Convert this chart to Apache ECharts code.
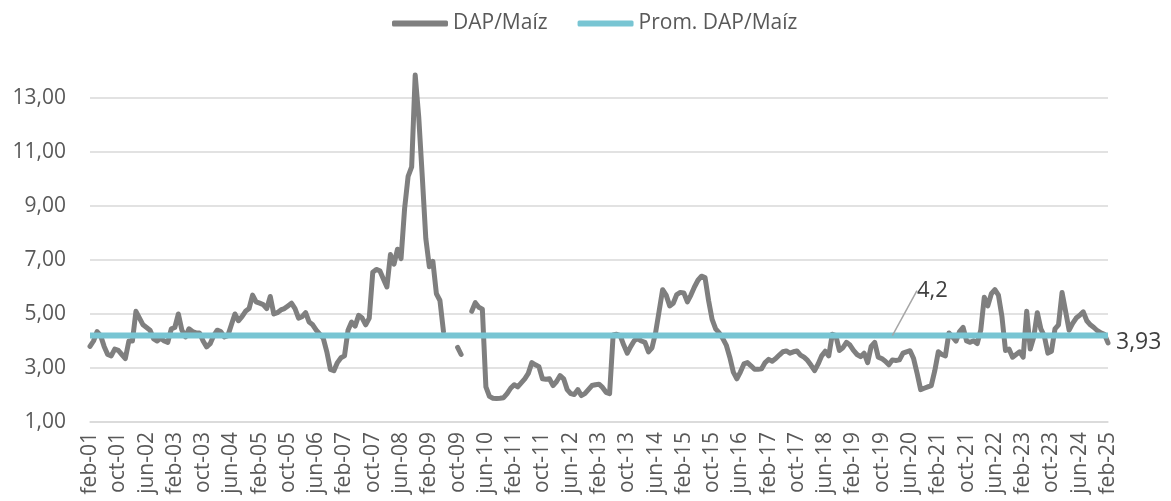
<!DOCTYPE html>
<html>
<head>
<meta charset="utf-8">
<script src="https://cdn.jsdelivr.net/npm/echarts/dist/echarts.min.js"></script>
<style>
  html, body { margin: 0; padding: 0; background: #fff; }
  #chart { width: 1171px; height: 501px; }
</style>
</head>
<body>
<div id="chart"></div>
<script>
// meses en español, serie mensual desde feb-01 hasta feb-25
var meses = ['ene', 'feb', 'mar', 'abr', 'may', 'jun', 'jul', 'ago', 'sep', 'oct', 'nov', 'dic'];
var anioInicio = 2001;
var mesInicio = 1; // feb

// relación DAP/Maíz (null = sin dato)
var dapMaiz = [
  3.8, 4.0, 4.35, 4.2, 3.8, 3.5, 3.45, 3.7, 3.65, 3.5, 3.35, 4.0,
  4.0, 5.1, 4.85, 4.6, 4.5, 4.4, 4.08, 4.0, 4.1, 4.0, 3.95, 4.45,
  4.5, 5.0, 4.4, 4.15, 4.45, 4.35, 4.3, 4.3, 4.0, 3.78, 3.9, 4.2,
  4.4, 4.35, 4.15, 4.2, 4.6, 5.0, 4.75, 4.9, 5.1, 5.2, 5.7, 5.45,
  5.4, 5.35, 5.2, 5.65, 5.0, 5.05, 5.15, 5.2, 5.3, 5.4, 5.2, 4.85,
  4.9, 5.05, 4.7, 4.6, 4.4, 4.25, 4.1, 3.6, 2.95, 2.9, 3.2, 3.38,
  3.45, 4.4, 4.7, 4.55, 4.95, 4.85, 4.6, 4.85, 6.55, 6.65, 6.6, 6.3,
  6.0, 7.2, 6.85, 7.4, 7.05, 8.9, 10.1, 10.45, 13.85, 12.3, 10.1, 7.8,
  6.75, 6.95, 5.75, 5.5, 4.35, null, null, null, 3.76, 3.5, null, null,
  5.1, 5.42, 5.25, 5.18, 2.3, 1.95, 1.88, 1.87, 1.88, 1.9, 2.05, 2.25,
  2.38, 2.3, 2.45, 2.6, 2.8, 3.2, 3.12, 3.05, 2.6, 2.58, 2.6, 2.35,
  2.5, 2.72, 2.6, 2.2, 2.05, 2.02, 2.2, 1.98, 2.05, 2.2, 2.35, 2.38,
  2.4, 2.28, 2.1, 2.05, 4.22, 4.25, 4.2, 3.85, 3.55, 3.8, 4.02, 4.08,
  4.0, 3.95, 3.6, 3.75, 4.3, 5.1, 5.9, 5.7, 5.3, 5.4, 5.72, 5.8,
  5.78, 5.45, 5.7, 6.0, 6.25, 6.4, 6.35, 5.5, 4.8, 4.45, 4.3, 4.1,
  3.85, 3.4, 2.85, 2.6, 2.85, 3.15, 3.2, 3.08, 2.95, 2.95, 2.97, 3.2,
  3.32, 3.25, 3.35, 3.48, 3.6, 3.63, 3.55, 3.6, 3.63, 3.48, 3.4, 3.28,
  3.1, 2.9, 3.15, 3.45, 3.62, 3.45, 4.25, 4.2, 3.65, 3.75, 3.95, 3.85,
  3.65, 3.5, 3.42, 3.55, 3.2, 3.8, 3.95, 3.4, 3.35, 3.25, 3.12, 3.3,
  3.28, 3.3, 3.55, 3.6, 3.64, 3.35, 2.8, 2.2, 2.25, 2.3, 2.35, 2.9,
  3.6, 3.5, 3.45, 4.3, 4.15, 4.0, 4.35, 4.5, 4.0, 3.95, 4.01, 3.9,
  4.4, 5.62, 5.3, 5.75, 5.9, 5.7, 4.9, 3.65, 3.7, 3.4, 3.5, 3.6,
  3.4, 5.1, 3.7, 4.15, 5.05, 4.45, 4.18, 3.55, 3.62, 4.45, 4.6, 5.8,
  5.1, 4.4, 4.65, 4.85, 4.95, 5.08, 4.75, 4.6, 4.5, 4.38, 4.3, 4.25,
  3.93
];

// promedio del periodo
var promedio = 4.2;
var etiquetaPromedio = '4,2';
var indiceEtiquetaProm = 227;
var etiquetaUltimo = '3,93';

var categorias = dapMaiz.map(function (v, i) {
  var m = mesInicio + i;
  var anio = anioInicio + Math.floor(m / 12);
  return meses[m % 12] + '-' + String(anio % 100).padStart(2, '0');
});

var datosProm = dapMaiz.map(function (v, i) {
  if (i === indiceEtiquetaProm) {
    return { value: promedio, label: { show: true, formatter: etiquetaPromedio } };
  }
  return promedio;
});

var myChart = echarts.init(document.getElementById('chart'));

var option = {
  animation: false,
  textStyle: { fontFamily: 'Open Sans' },
  legend: {
    top: 8,
    left: 387,
    icon: 'roundRect',
    itemWidth: 56,
    itemHeight: 6,
    itemGap: 30,
    textStyle: { fontSize: 21, color: '#595959' },
    data: ['DAP/Maíz', 'Prom. DAP/Maíz']
  },
  grid: { left: 90, right: 63, top: 98, bottom: 79 },
  xAxis: {
    type: 'category',
    data: categorias,
    boundaryGap: false,
    axisLine: { lineStyle: { color: '#d9d9d9', width: 1.5 } },
    axisTick: { show: false },
    axisLabel: { interval: 7, rotate: 90, margin: 10, fontSize: 21, color: '#595959' }
  },
  yAxis: {
    type: 'value',
    min: 1,
    max: 13,
    interval: 2,
    axisLine: { show: false },
    axisTick: { show: false },
    axisLabel: {
      margin: 24,
      fontSize: 21,
      color: '#595959',
      formatter: function (v) { return v.toFixed(2).replace('.', ','); }
    },
    splitLine: { lineStyle: { color: '#d9d9d9', width: 1.5 } }
  },
  series: [
    {
      name: 'DAP/Maíz',
      type: 'line',
      data: dapMaiz,
      showSymbol: false,
      clip: false,
      connectNulls: false,
      itemStyle: { color: '#7f7f7f' },
      lineStyle: { color: '#7f7f7f', width: 5, cap: 'round', join: 'round' },
      endLabel: { show: true, formatter: etiquetaUltimo, fontSize: 23, color: '#404040', distance: 8 }
    },
    {
      name: 'Prom. DAP/Maíz',
      type: 'line',
      data: datosProm,
      showSymbol: true,
      showAllSymbol: true,
      symbolSize: 0,
      itemStyle: { color: '#78c5d3' },
      lineStyle: { color: '#78c5d3', width: 6 },
      label: { position: 'top', fontSize: 22, color: '#404040' },
      labelLine: { show: true, lineStyle: { color: '#a6a6a6', width: 1.5 } },
      labelLayout: function (p) {
        if (p.dataIndex === indiceEtiquetaProm) {
          return { dx: 40, dy: -29 };
        }
        return {};
      }
    }
  ]
};

myChart.setOption(option);
</script>
</body>
</html>
